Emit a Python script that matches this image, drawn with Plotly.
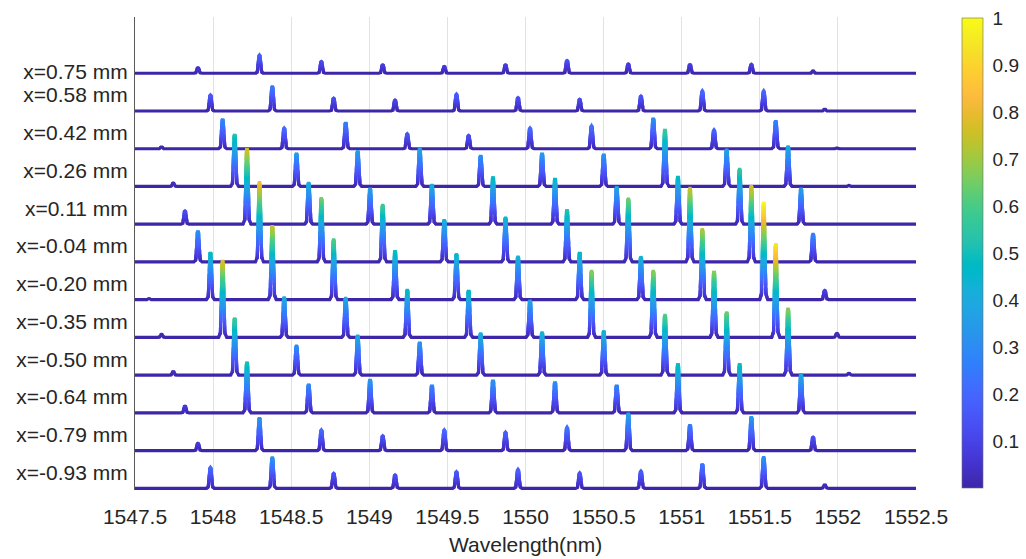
import math
import plotly.graph_objects as go

# ---------------- data ----------------
positions_mm = [0.75, 0.58, 0.42, 0.26, 0.11, -0.04, -0.20, -0.35, -0.50, -0.64, -0.79, -0.93]
row_labels = ["x=0.75 mm", "x=0.58 mm", "x=0.42 mm", "x=0.26 mm", "x=0.11 mm", "x=-0.04 mm",
              "x=-0.20 mm", "x=-0.35 mm", "x=-0.50 mm", "x=-0.64 mm", "x=-0.79 mm", "x=-0.93 mm"]

comb_a = [1547.903, 1548.297, 1548.693, 1549.086, 1549.480, 1549.872, 1550.266, 1550.658, 1551.053, 1551.446, 1551.841]
comb_b = [1547.983, 1548.379, 1548.772, 1549.165, 1549.558, 1549.952, 1550.347, 1550.739, 1551.132, 1551.525, 1551.916]
comb_b6 = [1547.590] + comb_b
comb_c = [1547.670, 1548.061, 1548.455, 1548.849, 1549.243, 1549.636, 1550.029, 1550.423, 1550.818, 1551.207, 1551.602, 1551.994]
comb_d = [1547.745, 1548.138, 1548.534, 1548.926, 1549.323, 1549.713, 1550.106, 1550.501, 1550.893, 1551.288, 1551.681, 1552.071]
comb_e = [1547.820, 1548.217, 1548.612, 1549.005, 1549.401, 1549.792, 1550.189, 1550.584, 1550.976, 1551.371, 1551.764]

peak_wavelengths = [comb_a, comb_b, comb_c, comb_d, comb_e, comb_a,
                    comb_b6, comb_c, comb_d, comb_e, comb_a, comb_b]

peak_intensities = [
    [0.057, 0.184, 0.118, 0.084, 0.067, 0.084, 0.128, 0.094, 0.088, 0.091, 0.023],
    [0.161, 0.252, 0.128, 0.111, 0.171, 0.134, 0.118, 0.151, 0.204, 0.204, 0.017],
    [0.017, 0.299, 0.208, 0.265, 0.151, 0.134, 0.208, 0.232, 0.309, 0.191, 0.282, 0.007],
    [0.033, 0.527, 0.335, 0.360, 0.386, 0.312, 0.335, 0.325, 0.577, 0.376, 0.410, 0.010],
    [0.134, 0.765, 0.423, 0.363, 0.403, 0.479, 0.463, 0.379, 0.483, 0.564, 0.363],
    [0.312, 0.809, 0.649, 0.581, 0.427, 0.453, 0.528, 0.645, 0.755, 0.772, 0.286],
    [0.010, 0.479, 0.748, 0.614, 0.496, 0.463, 0.439, 0.479, 0.436, 0.715, 0.983, 0.094],
    [0.030, 0.778, 0.409, 0.403, 0.486, 0.476, 0.376, 0.678, 0.678, 0.668, 0.947, 0.040],
    [0.033, 0.577, 0.302, 0.403, 0.332, 0.426, 0.436, 0.446, 0.614, 0.637, 0.678, 0.017],
    [0.067, 0.514, 0.289, 0.336, 0.279, 0.329, 0.312, 0.279, 0.497, 0.497, 0.397],
    [0.074, 0.332, 0.208, 0.148, 0.208, 0.185, 0.236, 0.377, 0.259, 0.342, 0.135],
    [0.211, 0.317, 0.151, 0.134, 0.167, 0.191, 0.157, 0.174, 0.245, 0.318, 0.033],
]

x_ticks = [1547.5, 1548, 1548.5, 1549, 1549.5, 1550, 1550.5, 1551, 1551.5, 1552, 1552.5]
x_ticktext = ["1547.5", "1548", "1548.5", "1549", "1549.5", "1550", "1550.5", "1551", "1551.5", "1552", "1552.5"]
x_title = "Wavelength(nm)"
cbar_ticks = [0.1, 0.2, 0.3, 0.4, 0.5, 0.6, 0.7, 0.8, 0.9, 1.0]
cbar_ticktext = ["0.1", "0.2", "0.3", "0.4", "0.5", "0.6", "0.7", "0.8", "0.9", "1"]

# ---------------- styling / geometry ----------------
WL_MIN, WL_MAX = 1547.5, 1552.5
ROW_STEP = 0.38
LINE_W = 3.2
PROFILE_DX = [-0.026, -0.014, -0.009, -0.0035, 0.0, 0.0035, 0.009, 0.014, 0.026]
PROFILE_REL = [0.0, 0.06, 0.45, 0.96, 1.0, 0.96, 0.45, 0.06, 0.0]

PARULA = [
    (0.2422, 0.1504, 0.6603), (0.2504, 0.1650, 0.7076), (0.2578, 0.1818, 0.7511), (0.2647, 0.1978, 0.7952),
    (0.2706, 0.2147, 0.8364), (0.2751, 0.2342, 0.8710), (0.2783, 0.2559, 0.8991), (0.2803, 0.2782, 0.9221),
    (0.2813, 0.3006, 0.9414), (0.2810, 0.3228, 0.9579), (0.2795, 0.3447, 0.9717), (0.2760, 0.3667, 0.9829),
    (0.2699, 0.3892, 0.9906), (0.2602, 0.4123, 0.9952), (0.2440, 0.4358, 0.9988), (0.2206, 0.4603, 0.9973),
    (0.1963, 0.4847, 0.9892), (0.1834, 0.5074, 0.9798), (0.1786, 0.5289, 0.9682), (0.1764, 0.5499, 0.9520),
    (0.1687, 0.5703, 0.9359), (0.1540, 0.5902, 0.9218), (0.1460, 0.6091, 0.9079), (0.1380, 0.6276, 0.8973),
    (0.1248, 0.6459, 0.8883), (0.1113, 0.6635, 0.8763), (0.0952, 0.6798, 0.8598), (0.0689, 0.6948, 0.8394),
    (0.0297, 0.7082, 0.8163), (0.0036, 0.7203, 0.7917), (0.0067, 0.7312, 0.7660), (0.0433, 0.7411, 0.7394),
    (0.0964, 0.7500, 0.7120), (0.1408, 0.7584, 0.6842), (0.1717, 0.7670, 0.6554), (0.1938, 0.7758, 0.6251),
    (0.2161, 0.7843, 0.5923), (0.2470, 0.7918, 0.5567), (0.2906, 0.7973, 0.5188), (0.3406, 0.8008, 0.4789),
    (0.3909, 0.8029, 0.4354), (0.4456, 0.8024, 0.3909), (0.5044, 0.7993, 0.3480), (0.5616, 0.7942, 0.3045),
    (0.6174, 0.7876, 0.2612), (0.6720, 0.7793, 0.2227), (0.7242, 0.7698, 0.1910), (0.7738, 0.7598, 0.1646),
    (0.8203, 0.7498, 0.1535), (0.8634, 0.7406, 0.1596), (0.9035, 0.7330, 0.1774), (0.9393, 0.7288, 0.2100),
    (0.9728, 0.7298, 0.2394), (0.9956, 0.7434, 0.2371), (0.9970, 0.7659, 0.2199), (0.9952, 0.7893, 0.2028),
    (0.9892, 0.8136, 0.1885), (0.9786, 0.8386, 0.1766), (0.9676, 0.8639, 0.1643), (0.9610, 0.8890, 0.1537),
    (0.9597, 0.9135, 0.1423), (0.9628, 0.9373, 0.1265), (0.9691, 0.9606, 0.1064), (0.9769, 0.9839, 0.0805),
]
N_COL = len(PARULA)
def rgb(c):
    return "rgb(%d,%d,%d)" % tuple(round(255 * v) for v in c)
parula_scale = [[i / (N_COL - 1), rgb(c)] for i, c in enumerate(PARULA)]

def cidx(v):
    return max(0, min(N_COL - 1, int(v * N_COL)))

# ---------------- build colour-binned line pieces ----------------
bins_x = [[] for _ in range(N_COL)]
bins_y = [[] for _ in range(N_COL)]
n_rows = len(row_labels)

for r in range(n_rows):
    off = (n_rows - 1 - r) * ROW_STEP
    xs, vs = [WL_MIN], [0.0]
    for c, h in zip(peak_wavelengths[r], peak_intensities[r]):
        for dx, rel in zip(PROFILE_DX, PROFILE_REL):
            xs.append(c + dx)
            vs.append(h * rel)
    xs.append(WL_MAX)
    vs.append(0.0)
    # subdivide each segment so the colour follows the height
    px, pv = [xs[0]], [vs[0]]
    for i in range(len(xs) - 1):
        n = max(1, math.ceil(abs(vs[i + 1] - vs[i]) / 0.015))
        for j in range(1, n + 1):
            t = j / n
            px.append(xs[i] + (xs[i + 1] - xs[i]) * t)
            pv.append(vs[i] + (vs[i + 1] - vs[i]) * t)
    seg_k = [cidx(0.5 * (pv[i] + pv[i + 1])) for i in range(len(px) - 1)]
    # runs of equal colour, each overlapping one sub-step into its neighbours
    start = 0
    nseg = len(seg_k)
    while start < nseg:
        end = start
        while end + 1 < nseg and seg_k[end + 1] == seg_k[start]:
            end += 1
        a = max(0, start - 1) if seg_k[start] != 0 else start
        b = min(len(px) - 1, end + 2) if seg_k[start] != 0 else end + 1
        k = seg_k[start]
        bins_x[k] += px[a:b + 1] + [None]
        bins_y[k] += [v + off for v in pv[a:b + 1]] + [None]
        start = end + 1

fig = go.Figure()
for k in range(N_COL):
    if bins_x[k]:
        fig.add_trace(go.Scatter(x=bins_x[k], y=bins_y[k], mode="lines",
                                 line=dict(color=rgb(PARULA[k]), width=LINE_W, simplify=False),
                                 hoverinfo="skip", showlegend=False))

# colourbar carrier
fig.add_trace(go.Scatter(
    x=[WL_MIN], y=[0], mode="markers", hoverinfo="skip", showlegend=False,
    marker=dict(size=1, opacity=0, color=[0], cmin=0, cmax=1, colorscale=parula_scale,
                showscale=True,
                colorbar=dict(x=1.059, xanchor="left", xpad=0, y=0.998, yanchor="top", ypad=0,
                              lenmode="pixels", len=470, thickness=21,
                              outlinewidth=0.6, outlinecolor="#6b6b6b",
                              tickvals=cbar_ticks, ticktext=cbar_ticktext,
                              ticks="outside", ticklen=6, tickcolor="rgba(0,0,0,0)",
                              tickfont=dict(family="Liberation Sans, Arial", size=19, color="#262626")))))

label_pos = [(n_rows - 1 - r) * ROW_STEP + (0.02 if r == 0 else 0.16) for r in range(n_rows)]

PLOT_T, PLOT_B = 17, 490
px_per_unit = 37.73 / ROW_STEP
y0 = -1.7 / px_per_unit
y1 = y0 + (PLOT_B - PLOT_T) / px_per_unit

fig.update_layout(
    width=1026, height=559,
    margin=dict(l=135, r=110, t=PLOT_T, b=559 - PLOT_B, autoexpand=False),
    plot_bgcolor="white", paper_bgcolor="white",
    font=dict(family="Liberation Sans, Arial", color="#262626"),
    xaxis=dict(range=[WL_MIN, WL_MAX], tickvals=x_ticks, ticktext=x_ticktext, automargin=False,
               showgrid=True, gridcolor="#e2e2e2", gridwidth=1, zeroline=False, showline=False,
               ticks="outside", ticklen=8, tickcolor="rgba(0,0,0,0)",
               tickfont=dict(size=21, color="#262626")),
    yaxis=dict(range=[y0, y1], tickvals=label_pos, ticktext=row_labels, automargin=False,
               showgrid=False, zeroline=False, showline=True, linecolor="#5a5a5a", linewidth=1,
               ticks="outside", ticklen=2, tickcolor="rgba(0,0,0,0)",
               tickfont=dict(size=21, color="#262626")),
    annotations=[dict(text=x_title, xref="paper", yref="paper", x=0.5, xanchor="center",
                      y=-(544 - PLOT_B) / (PLOT_B - PLOT_T), yanchor="middle", showarrow=False,
                      font=dict(size=21, color="#262626"))],
)

fig.write_html("out.html")
